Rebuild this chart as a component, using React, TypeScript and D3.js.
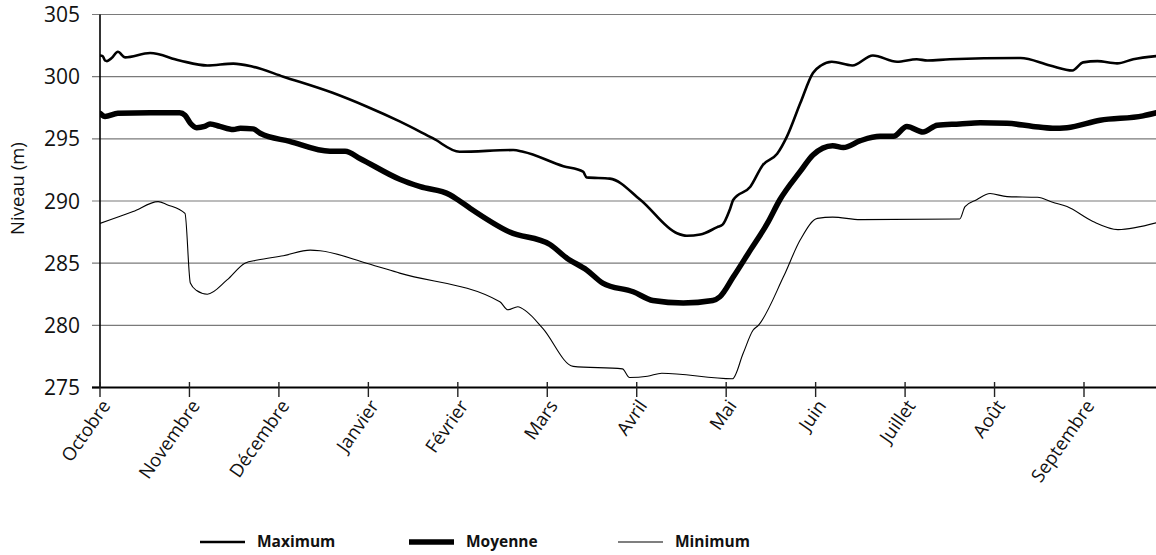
import { useEffect, useRef } from 'react';
import * as d3 from 'd3';

const months = ['Octobre', 'Novembre', 'Décembre', 'Janvier', 'Février', 'Mars', 'Avril', 'Mai', 'Juin', 'Juillet', 'Août', 'Septembre'];
const yTicks = [275, 280, 285, 290, 295, 300, 305];

// position in months (0 = start of October), level in m
const maxPos = [0, 0.03, 0.056, 0.078, 0.13, 0.2, 0.28, 0.56, 0.89, 1.2, 1.49, 1.71, 2.05, 2.6, 2.98, 3.35, 3.72, 4.02, 4.62, 4.73, 5.18, 5.4, 5.44, 5.7, 6.04, 6.45, 6.56, 6.71, 6.9, 6.96, 7.04, 7.08, 7.27, 7.41, 7.57, 7.68, 7.83, 7.97, 8.06, 8.18, 8.41, 8.64, 8.91, 9.13, 9.25, 9.5, 10.29, 10.62, 10.87, 10.99, 11.15, 11.37, 11.55, 11.81];
const maxVal = [301.7, 301.65, 301.3, 301.25, 301.5, 302.0, 301.55, 301.9, 301.3, 300.9, 301.05, 300.8, 300.0, 298.7, 297.6, 296.4, 295.05, 293.96, 294.1, 293.96, 292.8, 292.36, 291.9, 291.8, 290.1, 287.4, 287.2, 287.3, 287.9, 288.1, 289.3, 290.1, 291.15, 292.9, 293.8, 295.2, 297.9, 300.3, 300.9, 301.2, 300.9, 301.7, 301.2, 301.4, 301.3, 301.4, 301.5, 300.9, 300.5, 301.15, 301.25, 301.07, 301.4, 301.66];

const moyPos = [0, 0.056, 0.2, 0.56, 0.89, 0.95, 1.01, 1.08, 1.17, 1.23, 1.34, 1.49, 1.57, 1.71, 1.79, 2.12, 2.57, 2.74, 2.91, 3.35, 3.58, 3.91, 4.0, 4.14, 4.58, 5.03, 5.22, 5.44, 5.62, 5.96, 6.18, 6.52, 6.85, 6.93, 7.08, 7.27, 7.46, 7.6, 7.83, 7.97, 8.19, 8.31, 8.5, 8.72, 8.87, 9.02, 9.2, 9.36, 9.61, 9.84, 10.14, 10.43, 10.65, 10.81, 11.18, 11.66, 11.81];
const moyVal = [297.05, 296.8, 297.05, 297.1, 297.1, 296.9, 296.25, 295.9, 296.0, 296.2, 296.0, 295.75, 295.85, 295.8, 295.45, 294.8, 294.0, 294.0, 293.4, 291.75, 291.15, 290.5, 290.1, 289.4, 287.5, 286.5, 285.4, 284.45, 283.4, 282.7, 282.0, 281.8, 282.0, 282.3, 283.9, 286.05, 288.2, 290.1, 292.4, 293.7, 294.45, 294.3, 294.85, 295.2, 295.2, 296.0, 295.55, 296.1, 296.2, 296.3, 296.25, 296.0, 295.85, 295.9, 296.5, 296.85, 297.1];

const minPos = [0, 0.37, 0.65, 0.75, 0.95, 1.01, 1.08, 1.2, 1.42, 1.62, 1.76, 2.05, 2.35, 2.46, 2.98, 3.35, 4.47, 4.56, 4.67, 4.77, 4.95, 5.29, 5.84, 5.92, 6.12, 6.28, 7.07, 7.19, 7.3, 7.36, 7.64, 7.83, 8.02, 8.19, 8.5, 9.61, 9.67, 9.8, 9.95, 10.14, 10.48, 10.65, 10.81, 11.1, 11.38, 11.81];
const minVal = [288.2, 289.15, 289.95, 289.7, 289.0, 283.4, 282.8, 282.5, 283.65, 285.0, 285.25, 285.6, 286.05, 286.0, 285.0, 284.2, 281.9, 281.25, 281.5, 281.1, 279.75, 276.7, 276.5, 275.8, 275.9, 276.15, 275.7, 277.75, 279.6, 280.0, 283.9, 286.9, 288.6, 288.7, 288.5, 288.55, 289.55, 290.1, 290.6, 290.35, 290.3, 289.9, 289.55, 288.35, 287.7, 288.25];

const series = [
  { name: 'Maximum', pos: maxPos, val: maxVal, width: 2.6 },
  { name: 'Moyenne', pos: moyPos, val: moyVal, width: 5.5 },
  { name: 'Minimum', pos: minPos, val: minVal, width: 1.1 },
];

export default function App() {
  const svgRef = useRef<SVGSVGElement>(null);

  useEffect(() => {
    if (!svgRef.current) return;
    const width = 1156;
    const height = 555;
    const font = "'Open Sans', sans-serif";

    d3.select(svgRef.current).selectAll('*').remove();
    const svg = d3.select(svgRef.current).attr('width', width).attr('height', height);

    const x = d3.scaleLinear().domain([0, 11]).range([100, 1084]);
    const y = d3.scaleLinear().domain([275, 305]).range([387.5, 14.5]);

    // gridlines (and left ticks)
    svg.append('g')
      .selectAll('line')
      .data(yTicks.filter(d => d !== 275))
      .join('line')
      .attr('x1', 92)
      .attr('x2', width)
      .attr('y1', d => y(d))
      .attr('y2', d => y(d))
      .attr('stroke', '#7a7a7a')
      .attr('stroke-width', 1.2);

    svg.append('line')
      .attr('x1', 92).attr('x2', 100)
      .attr('y1', y(275)).attr('y2', y(275))
      .attr('stroke', '#000').attr('stroke-width', 1.5);

    // y labels
    svg.append('g')
      .selectAll('text')
      .data(yTicks)
      .join('text')
      .attr('x', 80)
      .attr('y', d => y(d))
      .attr('dy', '0.36em')
      .attr('text-anchor', 'end')
      .attr('font-family', font)
      .attr('font-size', 21)
      .attr('fill', '#111')
      .text(d => d);

    svg.append('text')
      .attr('transform', `translate(24,${y(291)}) rotate(-90)`)
      .attr('text-anchor', 'middle')
      .attr('font-family', font)
      .attr('font-size', 18.5)
      .attr('fill', '#111')
      .text('Niveau (m)');

    // data lines
    const clip = svg.append('clipPath').attr('id', 'plot-clip');
    clip.append('rect').attr('x', 100).attr('y', 0).attr('width', width - 100).attr('height', height);

    const line = d3.line<[number, number]>()
      .x(d => x(d[0]))
      .y(d => y(d[1]))
      .curve(d3.curveMonotoneX);

    series.forEach(s => {
      const pts = s.pos.map((p, i) => [p, s.val[i]] as [number, number]);
      svg.append('path')
        .datum(pts)
        .attr('clip-path', 'url(#plot-clip)')
        .attr('fill', 'none')
        .attr('stroke', '#000')
        .attr('stroke-width', s.width)
        .attr('stroke-linejoin', 'round')
        .attr('stroke-linecap', 'round')
        .attr('d', line);
    });

    // axes
    svg.append('line')
      .attr('x1', 100).attr('x2', 100)
      .attr('y1', y(305)).attr('y2', y(275))
      .attr('stroke', '#000').attr('stroke-width', 1.6);

    svg.append('line')
      .attr('x1', 92).attr('x2', width)
      .attr('y1', y(275)).attr('y2', y(275))
      .attr('stroke', '#000').attr('stroke-width', 2.2);

    svg.append('g')
      .selectAll('line')
      .data(months)
      .join('line')
      .attr('x1', (d, i) => x(i))
      .attr('x2', (d, i) => x(i))
      .attr('y1', 382)
      .attr('y2', 397)
      .attr('stroke', '#222')
      .attr('stroke-width', 1.4);

    svg.append('g')
      .selectAll('text')
      .data(months)
      .join('text')
      .attr('transform', (d, i) => `translate(${x(i) + 6},${402}) rotate(-55)`)
      .attr('text-anchor', 'end')
      .attr('dy', '0.35em')
      .attr('font-family', font)
      .attr('font-size', 18.5)
      .attr('fill', '#111')
      .text(d => d);

    // legend
    const legend = svg.append('g');
    series.forEach((s, i) => {
      const lx = 200 + i * 209;
      legend.append('line')
        .attr('x1', lx).attr('x2', lx + 45)
        .attr('y1', 542).attr('y2', 542)
        .attr('stroke', '#000')
        .attr('stroke-width', s.width);
      legend.append('text')
        .attr('x', lx + 57)
        .attr('y', 547)
        .attr('font-family', font)
        .attr('font-weight', 700)
        .attr('font-size', 15.5)
        .attr('fill', '#111')
        .text(s.name);
    });
  }, []);

  return (
    <div style={{ position: 'absolute', left: 0, top: 0 }}>
      <svg ref={svgRef}></svg>
    </div>
  );
}
